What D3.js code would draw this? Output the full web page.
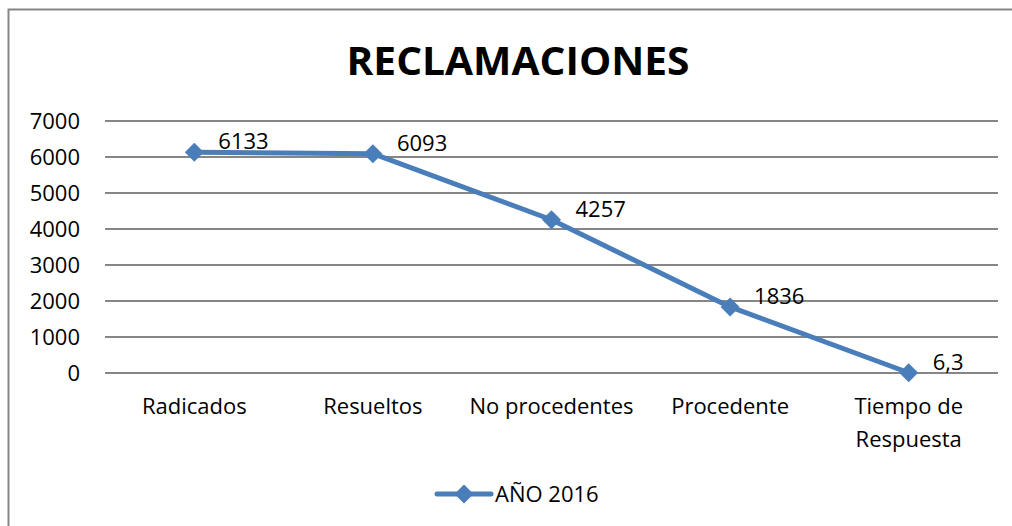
<!DOCTYPE html>
<html>
<head>
<meta charset="utf-8">
<script src="https://cdn.jsdelivr.net/npm/d3@7"></script>
<style>
  html, body { margin: 0; padding: 0; background: #fff; overflow: hidden; }
  svg { display: block; font-family: "Open Sans", "Noto Sans", sans-serif; }
</style>
</head>
<body>
<div id="chart"></div>
<script>
// datos del gráfico
const categories = ['Radicados', 'Resueltos', 'No procedentes', 'Procedente', 'Tiempo de Respuesta'];
const values = [6133, 6093, 4257, 1836, 6.3];
const valueLabels = ['6133', '6093', '4257', '1836', '6,3'];
const yTicks = [0, 1000, 2000, 3000, 4000, 5000, 6000, 7000];
const seriesName = 'AÑO 2016';
const title = 'RECLAMACIONES';

const width = 1012, height = 526;
const margin = { left: 105, right: 14, top: 121, bottom: 153 };
const blue = '#4a7ebb';
const grid = '#868686';

const svg = d3.select('#chart').append('svg')
  .attr('width', width)
  .attr('height', height);

// borde del área del gráfico (solo izquierda y arriba quedan dentro de la ventana)
svg.append('path')
  .attr('d', `M8.5,${height} V9.5 H${width}`)
  .attr('fill', 'none')
  .attr('stroke', grid)
  .attr('stroke-width', 2);

const x = d3.scaleBand()
  .domain(categories)
  .range([margin.left, width - margin.right]);

const y = d3.scaleLinear()
  .domain([0, 7000])
  .range([height - margin.bottom, margin.top]);

// líneas de cuadrícula
svg.append('g')
  .selectAll('line')
  .data(yTicks)
  .enter()
  .append('line')
  .attr('x1', margin.left)
  .attr('x2', width - margin.right)
  .attr('y1', d => y(d))
  .attr('y2', d => y(d))
  .attr('stroke', grid)
  .attr('stroke-width', 2);

// eje Y
const yAxis = svg.append('g')
  .attr('transform', `translate(${margin.left},0)`)
  .call(d3.axisLeft(y).tickValues(yTicks).tickSize(0).tickPadding(25).tickFormat(d3.format('d')));
yAxis.select('.domain').remove();
yAxis.selectAll('text')
  .attr('font-size', 22)
  .attr('font-family', '"Open Sans", sans-serif')
  .attr('fill', '#000');

// etiquetas de categoría (dos líneas si hace falta)
const catLabel = svg.append('g')
  .selectAll('text')
  .data(categories)
  .enter()
  .append('text')
  .attr('x', d => x(d) + x.bandwidth() / 2)
  .attr('y', y(0) + 41)
  .attr('text-anchor', 'middle')
  .attr('font-size', 22)
  .attr('fill', '#000');

catLabel.each(function(d) {
  const words = d === 'Tiempo de Respuesta' ? ['Tiempo de', 'Respuesta'] : [d];
  const t = d3.select(this);
  words.forEach((w, i) => {
    t.append('tspan')
      .attr('x', x(d) + x.bandwidth() / 2)
      .attr('dy', i === 0 ? 0 : 33)
      .text(w);
  });
});

// línea de la serie
const pts = categories.map((c, i) => [x(c) + x.bandwidth() / 2, y(values[i])]);

svg.append('path')
  .datum(pts)
  .attr('d', d3.line())
  .attr('fill', 'none')
  .attr('stroke', blue)
  .attr('stroke-width', 5)
  .attr('stroke-linejoin', 'round');

const diamond = d3.symbol().type(d3.symbolDiamond2).size(230);

svg.append('g')
  .selectAll('path')
  .data(pts)
  .enter()
  .append('path')
  .attr('d', diamond)
  .attr('transform', d => `translate(${d[0]},${d[1]})`)
  .attr('fill', blue);

// etiquetas de datos
svg.append('g')
  .selectAll('text')
  .data(pts)
  .enter()
  .append('text')
  .attr('x', d => d[0] + 24)
  .attr('y', d => d[1] - 3)
  .attr('font-size', 22)
  .attr('fill', '#000')
  .text((d, i) => valueLabels[i]);

// título
svg.append('text')
  .attr('x', 518)
  .attr('y', 75)
  .attr('text-anchor', 'middle')
  .attr('font-size', 40)
  .attr('font-weight', 'bold')
  .attr('fill', '#000')
  .attr('textLength', 343)
  .attr('lengthAdjust', 'spacingAndGlyphs')
  .text(title);

// leyenda
const lg = svg.append('g').attr('transform', 'translate(437,494)');
lg.append('line')
  .attr('x1', 0).attr('x2', 54)
  .attr('stroke', blue)
  .attr('stroke-width', 5)
  .attr('stroke-linecap', 'round');
lg.append('path')
  .attr('d', diamond)
  .attr('transform', 'translate(27,0)')
  .attr('fill', blue);
lg.append('text')
  .attr('x', 58)
  .attr('y', 8)
  .attr('font-size', 22)
  .attr('fill', '#000')
  .text(seriesName);
</script>
</body>
</html>
